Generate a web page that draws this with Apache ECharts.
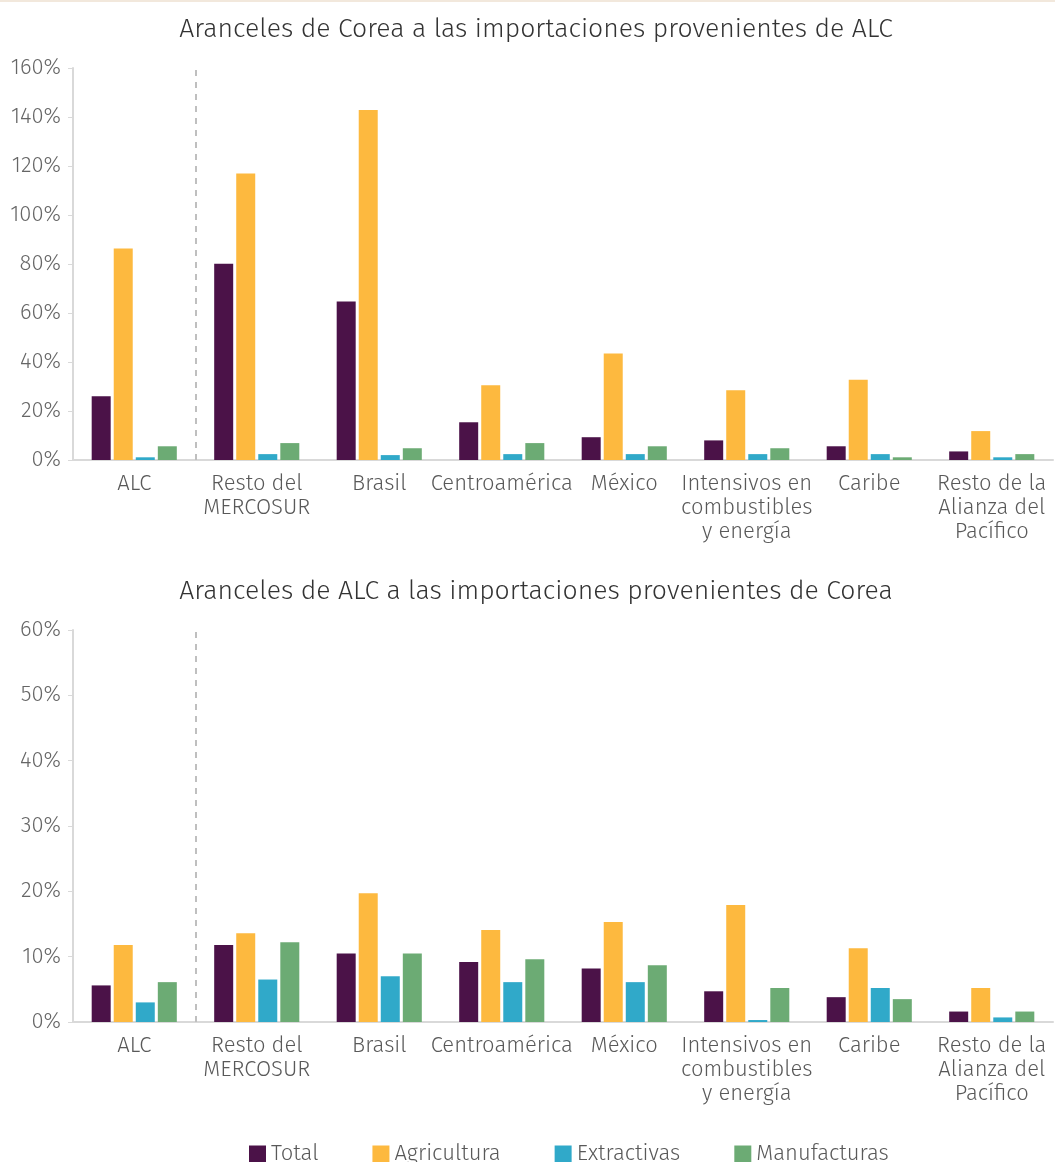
<!DOCTYPE html>
<html>
<head>
<meta charset="utf-8">
<script src="https://cdn.jsdelivr.net/npm/echarts@6/dist/echarts.min.js"></script>
<style>
  html, body { margin: 0; padding: 0; background: #fff; }
  #chart { width: 1055px; height: 1162px; }
</style>
</head>
<body>
<div id="chart"></div>
<script>
// categorias (eje x)
const categorias = [
  "ALC", "Resto del\nMERCOSUR", "Brasil", "Centroamérica", "México",
  "Intensivos en\ncombustibles\ny energía", "Caribe", "Resto de la\nAlianza del\nPacífico"
];
const sectores = ["Total", "Agricultura", "Extractivas", "Manufacturas"];
const colores = ["#4b1248", "#fdb93f", "#30a9c9", "#6cab74"];

// Aranceles de Corea a las importaciones provenientes de ALC (%)
const coreaTotal = [26.0, 80.1, 64.7, 15.4, 9.3, 8.0, 5.6, 3.5];
const coreaAgri  = [86.3, 116.9, 142.9, 30.5, 43.5, 28.5, 32.8, 11.8];
const coreaExtr  = [1.1, 2.4, 2.0, 2.4, 2.4, 2.4, 2.4, 1.1];
const coreaManu  = [5.6, 6.9, 4.8, 6.9, 5.6, 4.8, 1.1, 2.4];

// Aranceles de ALC a las importaciones provenientes de Corea (%)
const alcTotal = [5.6, 11.8, 10.5, 9.2, 8.2, 4.7, 3.8, 1.6];
const alcAgri  = [11.8, 13.6, 19.7, 14.1, 15.3, 17.9, 11.3, 5.2];
const alcExtr  = [3.0, 6.5, 7.0, 6.1, 6.1, 0.3, 5.2, 0.7];
const alcManu  = [6.1, 12.2, 10.5, 9.6, 8.7, 5.2, 3.5, 1.6];

// posicion del separador (entre ALC y el resto), en unidades de categoria
const separador = 1;

const fuente = "'Fira Sans', 'Noto Sans', sans-serif";
const chart = echarts.init(document.getElementById("chart"));

function ejeX(idx) {
  return {
    type: "category", gridIndex: idx, data: categorias,
    axisLine: { lineStyle: { color: "#d9d9d9", width: 2 } },
    axisTick: { show: false },
    axisLabel: { color: "#595959", fontSize: 22, fontFamily: fuente, fontWeight: 300,
      lineHeight: 24, interval: 0, margin: 12 }
  };
}
// eje auxiliar oculto para ubicar la linea punteada
function ejeAux(idx) {
  return { type: "value", gridIndex: idx, min: 0, max: categorias.length, show: false };
}
function ejeY(idx, max) {
  return {
    type: "value", gridIndex: idx, min: 0, max: max, interval: max === 160 ? 20 : 10,
    axisLine: { show: true, lineStyle: { color: "#d9d9d9", width: 2 } },
    splitLine: { show: false },
    axisLabel: { color: "#666", fontSize: 22, fontFamily: fuente, fontWeight: 300,
      formatter: "{value}%", margin: 12 }
  };
}
function serie(nombre, datos, idx, k) {
  return {
    name: nombre, type: "bar", xAxisIndex: idx * 2, yAxisIndex: idx,
    data: datos, barWidth: 19, barGap: "16%",
    itemStyle: { color: colores[k] }
  };
}
function linea(idx) {
  return {
    type: "line", xAxisIndex: idx * 2 + 1, yAxisIndex: idx, data: [],
    markLine: {
      silent: true, symbol: "none", label: { show: false },
      lineStyle: { color: "#bfbfbf", type: [6, 6], width: 2 },
      data: [{ xAxis: separador }]
    }
  };
}

const corea = [coreaTotal, coreaAgri, coreaExtr, coreaManu];
const alc = [alcTotal, alcAgri, alcExtr, alcManu];
const tituloEstilo = { color: "#333", fontSize: 26.6, fontWeight: 300, fontFamily: fuente };

chart.setOption({
  animation: false,
  color: colores,
  title: [
    { text: "Aranceles de Corea a las importaciones provenientes de ALC", left: 531, top: 11,
      textAlign: "center", textStyle: tituloEstilo },
    { text: "Aranceles de ALC a las importaciones provenientes de Corea", left: 531, top: 573,
      textAlign: "center", textStyle: tituloEstilo }
  ],
  legend: {
    top: 1138, left: 244, itemWidth: 17, itemHeight: 17, itemGap: 54,
    icon: "rect", data: sectores,
    textStyle: { color: "#595959", fontSize: 22, fontFamily: fuente, fontWeight: 300 }
  },
  grid: [
    { left: 73, right: 2, top: 68, height: 392 },
    { left: 73, right: 2, top: 630, height: 392 }
  ],
  xAxis: [ejeX(0), ejeAux(0), ejeX(1), ejeAux(1)],
  yAxis: [ejeY(0, 160), ejeY(1, 60)],
  graphic: [
    { type: "rect", shape: { x: 0, y: 0, width: 1055, height: 2 }, style: { fill: "#f2e8dc" } }
  ],
  series: sectores.map((n, k) => serie(n, corea[k], 0, k))
    .concat(sectores.map((n, k) => serie(n, alc[k], 1, k)))
    .concat([linea(0), linea(1)])
});
</script>
</body>
</html>
